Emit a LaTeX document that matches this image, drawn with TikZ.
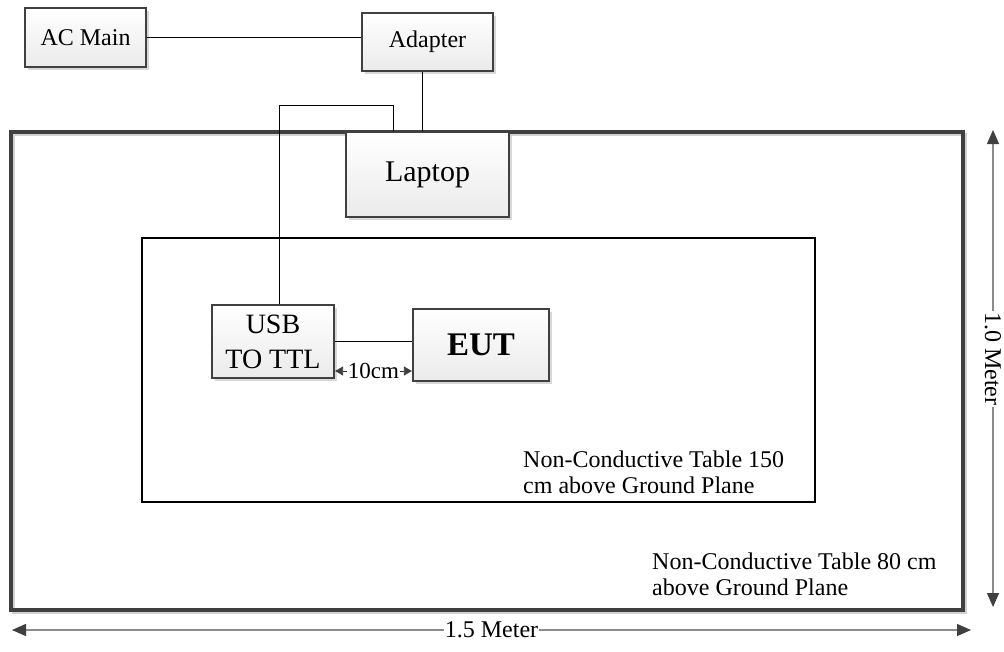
\documentclass[tikz,border=0pt]{standalone}
\usepackage{fontspec}
\setmainfont{Liberation Serif}
\usetikzlibrary{shadows,arrows.meta}

\begin{document}
\begin{tikzpicture}[x=1pt,y=-1pt,
  unit/.style={draw=black!75, line width=2.2pt, top color=white, bottom color=black!8,
    drop shadow={shadow xshift=3pt, shadow yshift=-3pt, fill=black!22, opacity=0.7},
    inner sep=0pt, align=center, font=\fontsize{24}{28}\selectfont},
  wire/.style={black, line width=0.9pt},
  dim/.style={draw=black!45, line width=1.3pt,
    {Triangle[length=14pt,width=12pt,color=black!75]}-{Triangle[length=14pt,width=12pt,color=black!75]}},
  gap/.style={draw=black!80, line width=0.8pt,
    {Triangle[length=8pt,width=9pt,color=black!75]}-{Triangle[length=8pt,width=9pt,color=black!75]}},
  note/.style={anchor=base west, align=left, inner sep=0pt, font=\fontsize{24}{26}\selectfont}]
\useasboundingbox (0,0) rectangle (1004,651);

\draw [black!18, line width=3pt] (13.5,134.5) rectangle (965.5,612.5);
\draw [black!75, line width=3.5pt] (11,132) rectangle (963,610);
\draw [black, line width=1.6pt] (142,238) rectangle (815,502);

\node [unit, minimum width=121pt, minimum height=59pt] (acmain) at (85.5,37.5) {AC Main};
\node [unit, minimum width=131pt, minimum height=58pt] (adapter) at (427.5,42) {Adapter};
\node [unit, minimum width=163pt, minimum height=85pt, font=\fontsize{30}{32}\selectfont] (laptop) at (427.5,174.5) {Laptop};
\node [unit, minimum width=122pt, minimum height=73pt, font=\fontsize{28}{35}\selectfont] (usb) at (273,341.5) {USB\\TO TTL};
\node [unit, minimum width=136pt, minimum height=72pt, font=\fontsize{33}{35}\selectfont\bfseries] (eut) at (481,345) {EUT};

\draw [wire] (acmain.east) -- (acmain.east -| adapter.west);
\draw [wire] ([xshift=-5.5pt]adapter.south) -- ([xshift=-5.5pt]adapter.south |- laptop.north);
\coordinate (bend) at (393,105);
\draw [wire] ([xshift=6pt]usb.north) |- (bend) -- (bend |- laptop.north);
\draw [wire] (usb.east) -- (usb.east -| eut.west);
\draw [gap] ([yshift=-29.5pt]usb.east) -- ([yshift=-29.5pt]usb.east -| eut.west)
  node [midway, fill=white, inner sep=0.5pt, font=\fontsize{23}{26}\selectfont] (gaplabel) {10cm};

\node [note] (note150) at (523,493) {Non-Conductive Table 150\\cm above Ground Plane};
\node [note] (note80) at (652,595) {Non-Conductive Table 80 cm\\above Ground Plane};

\coordinate (htop) at (993,130);
\coordinate (hbot) at (993,607);
\draw [dim] (htop) -- (hbot)
  node [pos=0.48, fill=white, inner sep=1pt, rotate=-90, font=\fontsize{24}{26}\selectfont] (hlabel) {1.0 Meter};
\coordinate (wleft) at (12,630);
\coordinate (wright) at (971,630);
\draw [dim] (wleft) -- (wright)
  node [midway, fill=white, inner sep=1pt, font=\fontsize{24}{26}\selectfont] (wlabel) {1.5 Meter};

\end{tikzpicture}
\end{document}
